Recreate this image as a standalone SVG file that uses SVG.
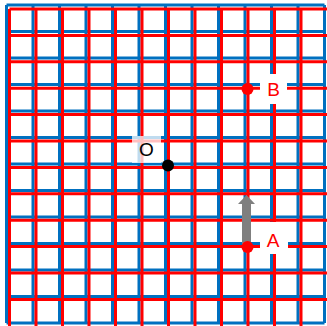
<svg xmlns="http://www.w3.org/2000/svg" width="327" height="326" viewBox="0 0 327 326">
<defs>
<style>
.bl{stroke:#0070C0;stroke-width:3;fill:none}
.rd{stroke:#FF0000;stroke-width:3;fill:none}
.lbl{font-family:"Liberation Sans",Arial,sans-serif;font-size:19px;text-anchor:middle;dominant-baseline:central}
</style>
</defs>
<rect width="327" height="326" fill="#fff"/>
<g id="blue-grid" class="bl">
<path d="M6.5 5V323M33 5V323M59.5 5V323M86 5V323M112.5 5V323M139 5V323M165.5 5V323M192 5V323M218.5 5V323M245 5V323M271.5 5V323M298 5V323M324.5 5V323"/>
<path d="M6.5 5H324.5M6.5 31.5H324.5M6.5 58H324.5M6.5 84.5H324.5M6.5 111H324.5M6.5 137.5H324.5M6.5 164H324.5M6.5 190.5H324.5M6.5 217H324.5M6.5 243.5H324.5M6.5 270H324.5M6.5 296.5H324.5M6.5 323H324.5"/>
</g>
<g id="red-grid" class="rd">
<path d="M9.5 9V330M36 9V330M62.5 9V330M89 9V330M115.5 9V330M142 9V330M168.5 9V330M195 9V330M221.5 9V330M248 9V330M274.5 9V330M301 9V330"/>
<path d="M9.5 9H330M9.5 35.4H330M9.5 61.8H330M9.5 88.2H330M9.5 114.6H330M9.5 141H330M9.5 167.4H330M9.5 193.8H330M9.5 220.2H330M9.5 246.6H330M9.5 273H330M9.5 299.4H330"/>
</g>
<g id="connectors">
<path d="M242 247V204H238L246.5 195L255 204H251V247Z" fill="#7F7F7F"/>
</g>
<g id="O">
<rect x="132" y="136" width="29" height="27" fill="#fff" opacity="0.75"/>
<text class="lbl" x="146.5" y="149.5" fill="#000">O</text>
<circle cx="168" cy="165.5" r="6" fill="#000"/>
</g>
<g id="B">
<rect x="260" y="74" width="27" height="30" fill="#fff"/>
<text class="lbl" x="273.5" y="89" fill="#FF0000">B</text>
<circle cx="247.5" cy="89" r="6" fill="#FF0000"/>
</g>
<g id="A">
<rect x="260" y="222" width="28" height="32" fill="#fff"/>
<text class="lbl" x="273" y="240" fill="#FF0000">A</text>
<circle cx="247.5" cy="247" r="6" fill="#FF0000"/>
</g>
</svg>
